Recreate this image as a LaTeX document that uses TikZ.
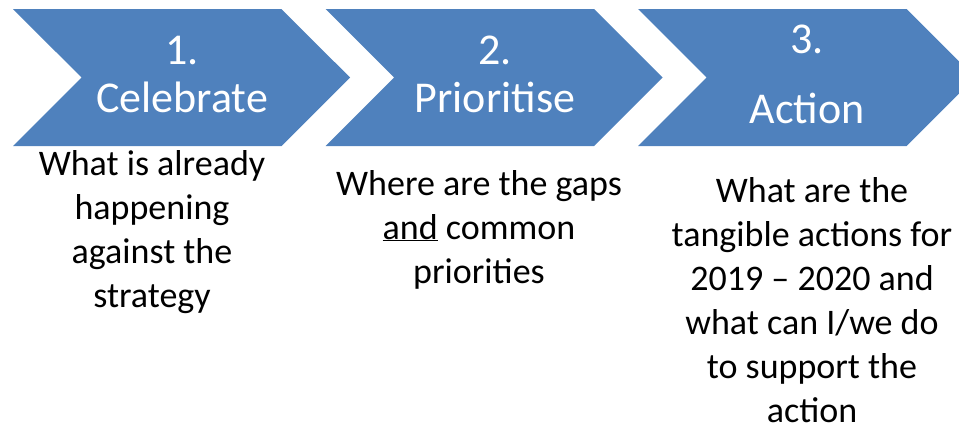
\documentclass[tikz,border=0pt]{standalone}
\usepackage{fontspec}
\setmainfont{Carlito}
\usetikzlibrary{shapes.symbols}

\definecolor{chevblue}{HTML}{4F81BD}

\tikzset{
  chevron/.style={signal, signal from=west, signal to=east, fill=chevblue,
    draw=none, minimum width=337pt, minimum height=137pt, inner sep=0pt},
  headtext/.style={text=white, align=center, inner sep=0pt,
    font=\fontsize{44}{48}\selectfont},
  desctext/.style={text=black, align=center, inner sep=0pt,
    font=\fontsize{36}{44}\selectfont}
}

\begin{document}
\begin{tikzpicture}[x=1pt,y=-1pt]
    \useasboundingbox (0,0) rectangle (959,426);

    \node[chevron] (chev1) at (181.5,77.5) {};
    \node[chevron] (chev2) at (494,77.5) {};
    \node[chevron] (chev3) at (806.5,77.5) {};

    % base anchor sits on the last line
    \node[headtext,anchor=base] (head1) at (182,112) {1.\\Celebrate};
    \node[headtext,anchor=base] (head2) at (495,112) {2.\\Prioritise};
    \node[headtext,anchor=base] (head3) at (807,123) {3.\\[22pt]Action};

    \node[desctext,anchor=base] (desc1) at (152,307) {What is already\\happening\\against the\\strategy};
    \node[desctext,anchor=base] (desc2) at (479,283) {Where are the gaps\\\underline{and} common\\priorities};
    \node[desctext,anchor=base] (desc3) at (812,422) {What are the\\tangible actions for\\2019 -- 2020 and\\what can I/we do\\to support the\\action};
\end{tikzpicture}
\end{document}
